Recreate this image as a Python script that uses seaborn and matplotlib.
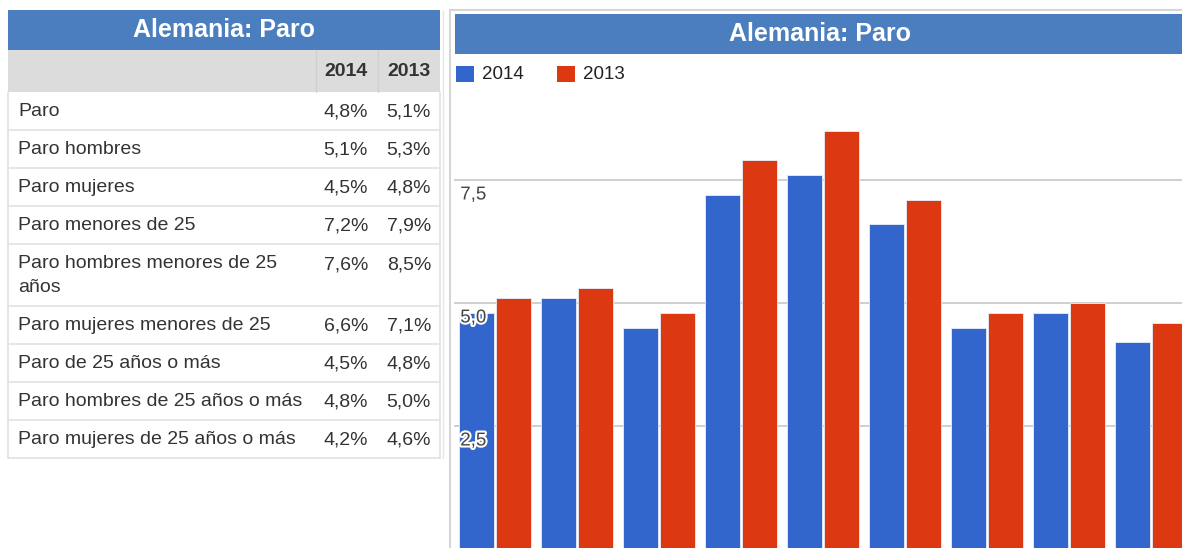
import numpy as np
import pandas as pd
import matplotlib
matplotlib.use("Agg")
import matplotlib.pyplot as plt
import matplotlib.patheffects as pe
from matplotlib.patches import Rectangle
from matplotlib.transforms import ScaledTranslation
import seaborn as sns

# ---------------- data ----------------
categories = [
    "Paro",
    "Paro hombres",
    "Paro mujeres",
    "Paro menores de 25",
    "Paro hombres menores de 25\naños",
    "Paro mujeres menores de 25",
    "Paro de 25 años o más",
    "Paro hombres de 25 años o más",
    "Paro mujeres de 25 años o más",
]
years = ["2014", "2013"]
values_2014 = [4.8, 5.1, 4.5, 7.2, 7.6, 6.6, 4.5, 4.8, 4.2]
values_2013 = [5.1, 5.3, 4.8, 7.9, 8.5, 7.1, 4.8, 5.0, 4.6]
y_ticks = [2.5, 5.0, 7.5]
y_tick_labels = ["2,5", "5,0", "7,5"]
title = "Alemania: Paro"

colors = {"2014": "#3366cc", "2013": "#dc3912"}
TITLE_BG = "#4a7ebf"
HEADER_BG = "#dcdcdc"
TEXT = "#333333"

df = pd.DataFrame({
    "cat": categories * 2,
    "year": ["2014"] * len(categories) + ["2013"] * len(categories),
    "val": values_2014 + values_2013,
})

sns.set_theme(style="white")
plt.rcParams["font.family"] = ["Liberation Sans", "DejaVu Sans"]

W, H = 1182, 548
fig = plt.figure(figsize=(W / 100, H / 100), dpi=100)
fig.patch.set_facecolor("white")

# overlay axes in pixel coordinates
ov = fig.add_axes([0, 0, 1, 1], zorder=0)
ov.set_xlim(0, W)
ov.set_ylim(H, 0)
ov.axis("off")
ov.patch.set_alpha(0)

BODY = 14
# ---------------- table ----------------
tx0, tx1 = 8, 440
ov.add_patch(Rectangle((tx0, 10), tx1 - tx0, 40, color=TITLE_BG, lw=0))
ov.text((tx0 + tx1) / 2, 30, title, color="white", fontsize=18, fontweight="bold",
        ha="center", va="center")
ov.add_patch(Rectangle((tx0, 50), tx1 - tx0, 42, color=HEADER_BG, lw=0))
for xs in (316, 378):
    ov.plot([xs, xs], [50, 92], color="#d0d0d0", lw=1)
c1, c2 = 368, 431
ov.text(c1, 72, years[0], color=TEXT, fontsize=14, fontweight="bold", ha="right", va="center")
ov.text(c2, 72, years[1], color=TEXT, fontsize=14, fontweight="bold", ha="right", va="center")

bounds = [92, 130, 168, 206, 244, 306, 344, 382, 420, 458]
for i, cat in enumerate(categories):
    top, bot = bounds[i], bounds[i + 1]
    if "\n" in cat:
        l1, l2 = cat.split("\n")
        ov.text(18, top + 20, l1, color=TEXT, fontsize=BODY, ha="left", va="center")
        ov.text(18, top + 44, l2, color=TEXT, fontsize=BODY, ha="left", va="center")
        yv = top + 21
    else:
        ov.text(18, (top + bot) / 2 + 1, cat, color=TEXT, fontsize=BODY, ha="left", va="center")
        yv = (top + bot) / 2 + 1
    ov.text(c1, yv, f"{values_2014[i]:.1f}%".replace(".", ","), color=TEXT,
            fontsize=BODY, ha="right", va="center")
    ov.text(c2, yv, f"{values_2013[i]:.1f}%".replace(".", ","), color=TEXT,
            fontsize=BODY, ha="right", va="center")
    ov.plot([tx0, tx1], [bot, bot], color="#e2e2e2", lw=1.2)
ov.plot([tx0, tx0], [92, 458], color="#e2e2e2", lw=1.2)
ov.plot([tx1, tx1], [92, 458], color="#e2e2e2", lw=1.2)
ov.plot([443, 443], [10, 458], color="#e6e6e6", lw=1)

# ---------------- chart panel ----------------
ov.plot([450, 450], [10, H], color="#d6d6d6", lw=1.5)
ov.plot([450, W], [10, 10], color="#d6d6d6", lw=1.5)
ov.add_patch(Rectangle((455, 14), W - 455, 40, color=TITLE_BG, lw=0))
ov.text(820, 34, title, color="white", fontsize=18, fontweight="bold",
        ha="center", va="center")

# legend
for lx, yr in [(456, years[0]), (557, years[1])]:
    ov.add_patch(Rectangle((lx, 66), 18, 16, color=colors[yr], lw=0))
    ov.text(lx + 26, 74.5, yr, color="#222222", fontsize=13.5, ha="left", va="center")

# bar axes
ax_l, ax_r = 454, W
ax_t, ax_b = 88, 549
px_per_unit = 49.2
px_per_cat = 82.0
ax = fig.add_axes([ax_l / W, (H - ax_b) / H, (ax_r - ax_l) / W, (ax_b - ax_t) / H], zorder=1)
ax.patch.set_alpha(0)
sns.barplot(data=df, x="cat", y="val", hue="year", order=categories, hue_order=years,
            palette=colors, saturation=1, width=0.9, gap=0.05, edgecolor="#e8eefa",
            linewidth=0.6, legend=False, ax=ax, zorder=2)
ax.set_xlim(-0.5, -0.5 + (ax_r - ax_l) / px_per_cat)
ax.set_ylim(0, (ax_b - ax_t) / px_per_unit)
ax.set_xlabel("")
ax.set_ylabel("")
ax.set_xticks([])
for s in ax.spines.values():
    s.set_visible(False)
ax.grid(False)
for yt in y_ticks:
    ax.axhline(yt, color="#cccccc", lw=1.3, zorder=0)
ax.set_axisbelow(False)
ax.yaxis.set_zorder(5)
ax.set_yticks(y_ticks)
ax.set_yticklabels(y_tick_labels)
ax.tick_params(axis="y", length=0, pad=-4.5, labelsize=13.5, labelcolor="#444444")
off = ScaledTranslation(0, -0.13, fig.dpi_scale_trans)
for lab in ax.get_yticklabels():
    lab.set_horizontalalignment("left")
    lab.set_transform(lab.get_transform() + off)
    lab.set_path_effects([pe.withStroke(linewidth=3, foreground="white")])

fig.savefig("out.png", dpi=100, facecolor="white")
